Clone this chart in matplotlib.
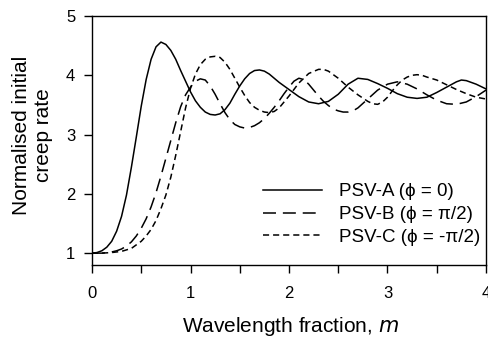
import matplotlib
matplotlib.use("Agg")
import matplotlib.pyplot as plt
from matplotlib.ticker import MultipleLocator

plt.rcParams['font.family'] = ['Liberation Sans', 'DejaVu Sans']

# PSV-A (phi = 0), solid
xa = [0.0, 0.05, 0.1, 0.15, 0.2, 0.25, 0.3, 0.35, 0.4, 0.45, 0.5, 0.55, 0.6, 0.65,
      0.7, 0.75, 0.8, 0.85, 0.9, 0.95, 1.0, 1.05, 1.1, 1.15, 1.2, 1.25, 1.3, 1.35,
      1.4, 1.45, 1.5, 1.55, 1.6, 1.65, 1.7, 1.75, 1.8, 1.85, 1.9, 1.95, 2.0, 2.1,
      2.2, 2.3, 2.4, 2.5, 2.6, 2.7, 2.8, 2.9, 3.0, 3.1, 3.2, 3.3, 3.4, 3.5, 3.6,
      3.7, 3.75, 3.8, 3.9, 4.0]
ya = [1.0, 1.01, 1.04, 1.1, 1.2, 1.37, 1.62, 1.98, 2.45, 2.96, 3.48, 3.93, 4.27, 4.48,
      4.56, 4.52, 4.42, 4.27, 4.08, 3.9, 3.72, 3.57, 3.46, 3.38, 3.34, 3.33, 3.35, 3.42,
      3.53, 3.68, 3.82, 3.94, 4.03, 4.08, 4.09, 4.07, 4.02, 3.95, 3.88, 3.82, 3.76, 3.64,
      3.55, 3.52, 3.56, 3.68, 3.85, 3.95, 3.93, 3.86, 3.78, 3.69, 3.63, 3.61, 3.63, 3.71, 3.8,
      3.89, 3.92, 3.91, 3.85, 3.77]

# PSV-B (phi = pi/2), long dashes
xb = [0.0, 0.1, 0.2, 0.25, 0.3, 0.35, 0.4, 0.45, 0.5, 0.55, 0.6, 0.65, 0.7, 0.75,
      0.8, 0.85, 0.9, 0.95, 1.0, 1.05, 1.1, 1.15, 1.2, 1.25, 1.3, 1.35, 1.4, 1.45,
      1.5, 1.55, 1.6, 1.65, 1.7, 1.75, 1.8, 1.85, 1.9, 1.95, 2.0, 2.05, 2.1, 2.15,
      2.2, 2.25, 2.3, 2.35, 2.4, 2.45, 2.5, 2.55, 2.6, 2.65, 2.7, 2.8, 2.9, 3.0,
      3.1, 3.2, 3.3, 3.4, 3.5, 3.6, 3.7, 3.8, 3.9, 4.0]
yb = [1.0, 1.0, 1.02, 1.04, 1.07, 1.12, 1.19, 1.29, 1.42, 1.58, 1.78, 2.02, 2.3, 2.6,
      2.9, 3.2, 3.47, 3.67, 3.8, 3.9, 3.94, 3.92, 3.82, 3.68, 3.52, 3.37, 3.25, 3.17,
      3.13, 3.11, 3.12, 3.15, 3.2, 3.27, 3.36, 3.46, 3.57, 3.69, 3.8, 3.9, 3.95, 3.93,
      3.85, 3.75, 3.65, 3.56, 3.49, 3.43, 3.4, 3.38, 3.38, 3.4, 3.45, 3.6, 3.75, 3.85,
      3.89, 3.85, 3.77, 3.67, 3.58, 3.52, 3.51, 3.55, 3.64, 3.75]

# PSV-C (phi = -pi/2), short dashes
xc = [0.0, 0.1, 0.2, 0.3, 0.4, 0.5, 0.55, 0.6, 0.65, 0.7, 0.75, 0.8, 0.85, 0.9,
      0.95, 1.0, 1.05, 1.1, 1.15, 1.2, 1.25, 1.3, 1.35, 1.4, 1.45, 1.5, 1.55, 1.6,
      1.65, 1.7, 1.75, 1.8, 1.85, 1.9, 2.0, 2.1, 2.2, 2.3, 2.35, 2.4, 2.5, 2.6,
      2.7, 2.8, 2.85, 2.9, 2.95, 3.0, 3.05, 3.1, 3.15, 3.2, 3.25, 3.3, 3.35, 3.4,
      3.5, 3.6, 3.7, 3.8, 3.9, 4.0]
yc = [1.0, 1.0, 1.01, 1.03, 1.08, 1.2, 1.29, 1.4, 1.55, 1.75, 1.98, 2.28, 2.65, 3.05,
      3.45, 3.78, 4.02, 4.18, 4.27, 4.31, 4.32, 4.3, 4.22, 4.1, 3.95, 3.8, 3.66, 3.54,
      3.46, 3.41, 3.38, 3.37, 3.39, 3.45, 3.65, 3.87, 4.03, 4.1, 4.1, 4.07, 3.95, 3.8,
      3.67, 3.56, 3.52, 3.51, 3.55, 3.63, 3.74, 3.84, 3.92, 3.97, 4.0, 4.01, 4.0, 3.97,
      3.92, 3.84, 3.76, 3.69, 3.63, 3.6]

fig = plt.figure(figsize=(4.88, 3.38), dpi=100)
ax = fig.add_axes([92 / 488, 1 - 265 / 338, 394 / 488, 249 / 338])

ax.plot(xa, ya, color='black', lw=1.1, label='PSV-A (\u03d5 = 0)')
ax.plot(xb, yb, color='black', lw=1.1, dashes=(8.5, 4.5), label='PSV-B (\u03d5 = \u03c0/2)')
ax.plot(xc, yc, color='black', lw=1.1, dashes=(4, 2.6), label='PSV-C (\u03d5 = -\u03c0/2)')

ax.set_xlim(0, 4)
ax.set_ylim(0.8, 5)
ax.xaxis.set_major_locator(MultipleLocator(1))
ax.xaxis.set_minor_locator(MultipleLocator(0.5))
ax.set_yticks([1, 2, 3, 4, 5])
ax.tick_params(which='both', direction='out', length=6, width=1, labelsize=12)
ax.tick_params(axis='x', which='both', pad=9)
ax.tick_params(axis='y', pad=6)
for s in ax.spines.values():
    s.set_linewidth(1)

ax.set_xlabel('Wavelength fraction, $\\it{m}$', fontsize=15)
ax.xaxis.set_label_coords(0.503, -0.2)
ax.set_ylabel('Normalised initial\ncreep rate', fontsize=15)
ax.yaxis.set_label_coords(-0.1, 0.52)

ax.legend(loc='upper left', bbox_to_anchor=(0.434, 0.328), frameon=False,
          fontsize=13.5, handlelength=3.15, handletextpad=0.9, labelspacing=0.3,
          borderpad=0, borderaxespad=0)

fig.savefig('out.png', dpi=100)
